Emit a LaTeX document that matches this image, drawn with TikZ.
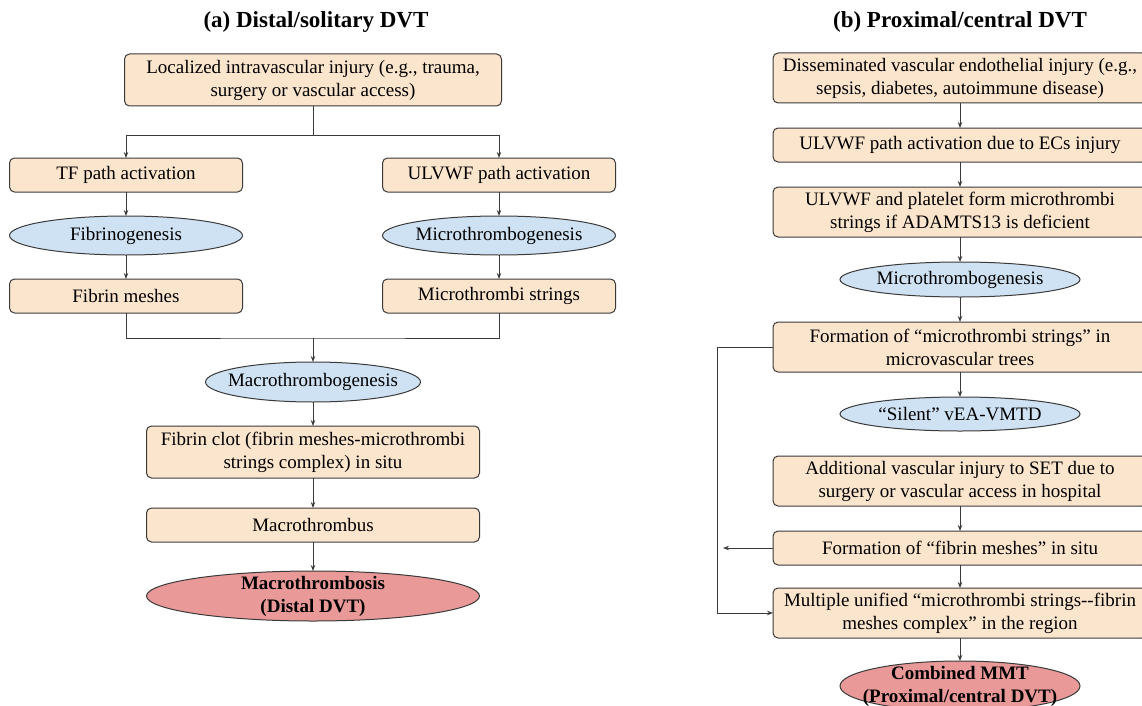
\documentclass[tikz,border=0pt]{standalone}
\usepackage{fontspec}
\setmainfont{Liberation Serif}
\usetikzlibrary{shapes.geometric, arrows.meta, positioning}
\definecolor{peach}{HTML}{FCE5CD}
\definecolor{paleblue}{HTML}{CFE2F3}
\definecolor{palered}{HTML}{EA9999}
\definecolor{edge}{HTML}{3A3A3A}

\begin{document}
\begin{tikzpicture}[x=1pt, y=-1pt, node distance=24pt,
	every node/.style={font=\fontsize{19}{23}\selectfont, align=center, outer sep=0pt},
	stepbox/.style={draw=edge, line width=1pt, fill=peach, rounded corners=5pt, inner sep=2pt, minimum height=34pt},
	proc/.style={ellipse, draw=edge, line width=1pt, fill=paleblue, inner xsep=-12pt, inner ysep=0pt, minimum height=39pt},
	result/.style={ellipse, draw=edge, line width=1pt, fill=palered, inner xsep=-20pt, inner ysep=-7pt, minimum height=50pt, font=\fontsize{19}{23}\selectfont\bfseries},
	arr/.style={-{Stealth[length=6pt, width=4.5pt]}, draw=edge, line width=1pt},
	title/.style={font=\fontsize{23}{27}\selectfont\bfseries}]
	\useasboundingbox (0,0) rectangle (1142,706);

	% (a) distal / solitary
	\node[title] (ta) at (316,22) {(a) Distal/solitary DVT};
	\node[stepbox, minimum width=377pt, minimum height=52pt] (inj) at (313,80) {Localized intravascular injury (e.g., trauma,\\ surgery or vascular access)};
	\node[stepbox, minimum width=233pt] (tf) at (126,175) {TF path activation};
	\node[stepbox, minimum width=233pt] (ulv) at (499,175) {ULVWF path activation};
		\node[proc, below =of tf, minimum width=233pt] (fibgen) {Fibrinogenesis};
		\node[stepbox, below =of fibgen, minimum width=233pt] (meshes) {Fibrin meshes};
		\node[proc, below =of ulv, minimum width=233pt] (mtgen) {Microthrombogenesis};
		\node[stepbox, below =of mtgen, minimum width=233pt] (strings) {Microthrombi strings};
	\node[proc, minimum width=215pt, minimum height=40pt] (macro) at (313,382) {Macrothrombogenesis};
	\node[stepbox, below =of macro, minimum width=333pt, minimum height=52pt] (clot) {Fibrin clot (fibrin meshes-microthrombi\\ strings complex) in situ};
	\node[stepbox, below =30pt of clot, minimum width=333pt] (thrombus) {Macrothrombus};
	\node[result, below =29pt of thrombus, minimum width=333pt] (sis) {Macrothrombosis\\ (Distal DVT)};
	\coordinate (split) at (313,135);
	\coordinate (join) at (313,338);

	\draw[arr] (inj.south) -- (split) -| (tf.north);
	\draw[arr] (split) -| (ulv.north);
	\draw[edge, line width=1pt] (meshes.south) |- (join) -| (strings.south);
	\foreach \from/\to in {tf/fibgen,fibgen/meshes,ulv/mtgen,mtgen/strings,join/macro,macro/clot,clot/thrombus,thrombus/sis}
		\draw[arr] (\from) -- (\to);

	% (b) proximal / central
	\node[title] (tb) at (960,22) {(b) Proximal/central DVT};
	\node[stepbox, minimum width=374pt, minimum height=50pt] (dis) at (960,78) {Disseminated vascular endothelial injury (e.g.,\\ sepsis, diabetes, autoimmune disease)};
	\node[stepbox, below =25pt of dis, minimum width=374pt] (ecs) {ULVWF path activation due to ECs injury};
	\node[stepbox, below =25pt of ecs, minimum width=374pt, minimum height=50pt] (adam) {ULVWF and platelet form microthrombi\\ strings if ADAMTS13 is deficient};
	\node[proc, below =25pt of adam, minimum width=240pt, minimum height=35pt] (mtgenb) {Microthrombogenesis};
	\node[stepbox, below =25pt of mtgenb, minimum width=374pt, minimum height=50pt] (trees) {Formation of “microthrombi strings” in\\ microvascular trees};
	\node[proc, below =25pt of trees, minimum width=240pt, minimum height=34pt] (silent) {“Silent” vEA-VMTD};
	\node[stepbox, below =25pt of silent, minimum width=374pt, minimum height=50pt] (set) {Additional vascular injury to SET due to\\ surgery or vascular access in hospital};
	\node[stepbox, below =25pt of set, minimum width=374pt] (fmesh) {Formation of “fibrin meshes” in situ};
	\node[stepbox, below =23pt of fmesh, minimum width=374pt, minimum height=50pt] (unified) {Multiple unified “microthrombi strings-{}-fibrin\\ meshes complex” in the region};
	\node[result, below =23pt of unified, minimum width=240pt] (mmt) {Combined MMT\\ (Proximal/central DVT)};
	\coordinate (side) at (717,0);
	\coordinate (tip) at (723,0);

	\foreach \from/\to in {dis/ecs,ecs/adam,adam/mtgenb,mtgenb/trees,trees/silent,set/fmesh,fmesh/unified,unified/mmt}
		\draw[arr] (\from) -- (\to);
	\draw[arr] (trees.west) -- (trees.west -| side) |- (unified.west);
	\draw[arr] (fmesh.west) -- (fmesh.west -| tip);
\end{tikzpicture}
\end{document}
